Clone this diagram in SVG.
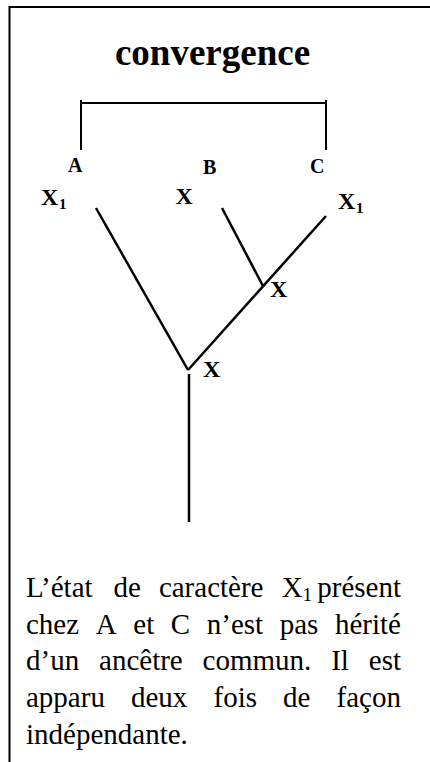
<svg xmlns="http://www.w3.org/2000/svg" width="430" height="762" viewBox="0 0 430 762">
<style>
.ln{stroke:#000;stroke-width:2.5;fill:none;stroke-linecap:butt}
.bd{stroke:#000;stroke-width:2;fill:none}
.ttl{font-family:"Liberation Serif","Times New Roman",serif;font-weight:bold;font-size:37px;fill:#000}
.lb{font-family:"Liberation Serif","Times New Roman",serif;font-weight:bold;font-size:20px;fill:#000}
.lx{font-family:"Liberation Serif","Times New Roman",serif;font-weight:bold;font-size:24px;fill:#000}
.sb{font-family:"Liberation Serif","Times New Roman",serif;font-weight:bold;font-size:15px;fill:#000}
.tx{font-family:"Liberation Serif","Times New Roman",serif;font-size:29px;fill:#000}
.ts{font-family:"Liberation Serif","Times New Roman",serif;font-size:19.3px;fill:#000}
</style>
<rect width="430" height="762" fill="#fff"/>
<g id="frame">
<path class="bd" d="M9.5 762 V7 H430"/>
</g>
<g id="title"><text class="ttl" x="212.5" y="65" text-anchor="middle">convergence</text></g>
<g id="connectors">
<path class="bd" d="M81 100 V150 M326 100 V150 M81 103 H326"/>
<path class="ln" d="M96 208 L188 370"/>
<path class="ln" d="M222 208 L263.5 287"/>
<path class="ln" d="M326 216 L188 370"/>
<path class="ln" d="M189 374 V522"/>
</g>
<g id="node-A">
<text class="lb" x="68" y="172">A</text>
<text class="lx" x="41" y="205">X</text><text class="sb" x="59" y="209">1</text>
</g>
<g id="node-B">
<text class="lb" x="203" y="174">B</text>
<text class="lx" x="175.5" y="204">X</text>
</g>
<g id="node-C">
<text class="lb" x="310" y="173">C</text>
<text class="lx" x="338" y="209">X</text><text class="sb" x="356" y="213">1</text>
</g>
<g id="node-inner">
<text class="lx" x="270" y="297">X</text>
</g>
<g id="node-root">
<text class="lx" x="203" y="377">X</text>
</g>
<g id="caption">
<text class="tx" y="597"><tspan x="26">L’état</tspan><tspan x="113.38">de</tspan><tspan x="158.89">caractère</tspan><tspan x="281.65">X</tspan></text>
<text class="ts" x="302.6" y="601">1</text>
<text class="tx" y="597"><tspan x="317.25">présent</tspan></text>
<text class="tx" y="634"><tspan x="26">chez</tspan><tspan x="95.73">A</tspan><tspan x="133.27">et</tspan><tspan x="170.81">C</tspan><tspan x="206.75">n’est</tspan><tspan x="279.72">pas</tspan><tspan x="334.98">hérité</tspan></text>
<text class="tx" y="670"><tspan x="26">d’un</tspan><tspan x="99.02">ancêtre</tspan><tspan x="202.6">commun.</tspan><tspan x="331.21">Il</tspan><tspan x="368.79">est</tspan></text>
<text class="tx" y="707"><tspan x="26">apparu</tspan><tspan x="131.01">deux</tspan><tspan x="213.49">fois</tspan><tspan x="283.09">de</tspan><tspan x="336.57">façon</tspan></text>
<text class="tx" x="26" y="744">indépendante.</text>
</g>
</svg>
